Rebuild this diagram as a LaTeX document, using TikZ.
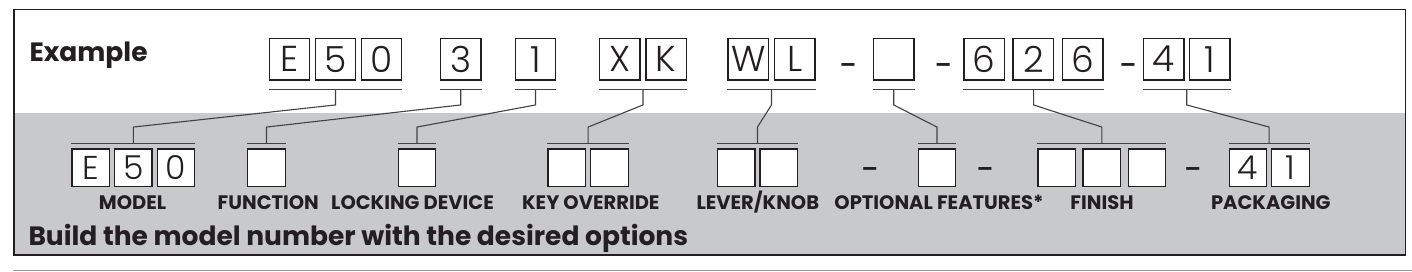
\documentclass[tikz,border=0pt]{standalone}
\usepackage{fontspec}
\setmainfont{Poppins}
\newfontfamily\boldf{Poppins Bold}
\newfontfamily\semif{Poppins SemiBold}
\newfontfamily\lightf{Poppins Light}
\usetikzlibrary{calc}
\definecolor{ink}{HTML}{231F20}
\definecolor{panel}{HTML}{C8C9CB}
\definecolor{rulegray}{HTML}{9A9A9A}
\begin{document}
\begin{tikzpicture}[x=1pt,y=-1pt,
  topbox/.style={draw=ink, line width=1.3pt, fill=white, minimum width=40.5pt, minimum height=41.7pt, inner sep=0pt, font=\lightf\fontsize{36}{36}\selectfont, text=ink},
  botbox/.style={draw=ink, line width=1.3pt, fill=white, minimum width=37.5pt, minimum height=37.7pt, inner sep=0pt, font=\lightf\fontsize{33}{33}\selectfont, text=ink},
  lbl/.style={font=\boldf\fontsize{19.5}{19.5}\selectfont, text=ink, anchor=base, inner sep=0pt},
  head/.style={font=\boldf\fontsize{26.5}{26.5}\selectfont, text=ink, anchor=base west, inner sep=0pt},
  sep/.style={font=\semif\fontsize{24}{24}\selectfont, text=ink, inner sep=0pt},
  link/.style={draw=ink!85, line width=1.1pt},
]
\useasboundingbox (0,0) rectangle (1412,271);
\fill[panel] (14,113) rectangle (1405.7,255);
\draw[ink, line width=1.3pt] (14,9.5) rectangle (1405.7,255);
\draw[rulegray, line width=1pt] (13,270) -- (1412,270);

\node[head] (ex) at (29.3,61.7) {Example};
\node[head] (build) at (28.3,245) {Build the model number with the desired options};

% top row
\node[topbox] (tE) at (289.5,59.15) {E};
\node[topbox] (t5) at (335.5,59.15) {5};
\node[topbox] (t0) at (381.5,59.15) {0};
\node[topbox] (t3) at (460.7,59.15) {3};
\node[topbox] (t1) at (535.5,59.15) {1};
\node[topbox] (tX) at (619.7,59.15) {X};
\node[topbox] (tK) at (666.2,59.15) {K};
\node[topbox] (tW) at (748.3,59.15) {W};
\node[topbox] (tL) at (794.7,59.15) {L};
\node[topbox] (tO) at (893.7,59.15) {};
\node[topbox] (t6a) at (984.3,59.15) {6};
\node[topbox] (t2) at (1033.3,59.15) {2};
\node[topbox] (t6b) at (1082.8,59.15) {6};
\node[topbox] (t4) at (1163.7,59.15) {4};
\node[topbox] (t1b) at (1209.7,59.15) {1};

\node[sep] (d1) at (848,69) {–};
\node[sep] (d2) at (943.3,69) {–};
\node[sep] (d3) at (1128,69) {–};

% bottom row
\node[botbox] (bE) at (90.75,167.85) {E};
\node[botbox] (b5) at (133.35,167.85) {5};
\node[botbox] (b0) at (176,167.85) {0};
\node[botbox] (bF) at (266.5,167.85) {};
\node[botbox] (bL) at (417,167.85) {};
\node[botbox] (bKa) at (566.7,167.85) {};
\node[botbox] (bKb) at (609.5,167.85) {};
\node[botbox] (bVa) at (736.2,167.85) {};
\node[botbox] (bVb) at (778.7,167.85) {};
\node[botbox] (bO) at (937,167.85) {};
\node[botbox] (bFa) at (1056.7,167.85) {};
\node[botbox] (bFb) at (1101.7,167.85) {};
\node[botbox] (bFc) at (1147,167.85) {};
\node[botbox] (bPa) at (1247.9,167.85) {4};
\node[botbox] (bPb) at (1290.4,167.85) {1};

\node[sep] (e1) at (869.7,172.7) {–};
\node[sep] (e2) at (985,172.7) {–};
\node[sep] (e3) at (1192.7,172.7) {–};

\node[lbl] (lM) at (132.5,209) {MODEL};
\node[lbl] (lF) at (268.3,209) {FUNCTION};
\node[lbl] (lL) at (412.5,209) {LOCKING DEVICE};
\node[lbl] (lK) at (590.8,209) {KEY OVERRIDE};
\node[lbl] (lV) at (757.8,209) {LEVER/KNOB};
\node[lbl] (lO) at (939,209) {OPTIONAL FEATURES*};
\node[lbl] (lFi) at (1102,209) {FINISH};
\node[lbl] (lP) at (1270.8,209) {PACKAGING};

% underlines (top) and brackets (bottom), with connectors
\foreach \a/\b/\c/\d [count=\i] in {tE/t0/bE/b0, t3/t3/bF/bF, t1/t1/bL/bL, tX/tK/bKa/bKb, tW/tL/bVa/bVb, tO/tO/bO/bO, t6a/t6b/bFa/bFc, t4/t1b/bPa/bPb}{
  \draw[link] ([yshift=-9pt]\a.south west) -- ([yshift=-9pt]\b.south east);
  \draw[link] ([yshift=5pt]\c.north west) -- ([yshift=5pt]\d.north east);
  \coordinate (u\i) at ($(\a.south west)!0.5!(\b.south east)+(0,9)$);
  \coordinate (v\i) at ($(\c.north west)!0.5!(\d.north east)+(0,-5)$);
  \draw[link] (u\i) -- ++(0,15.3) -- ([yshift=16.3pt]v\i) -- (v\i);
}
\end{tikzpicture}
\end{document}
